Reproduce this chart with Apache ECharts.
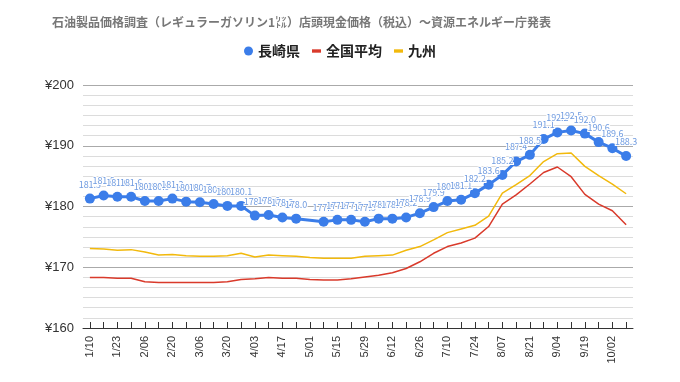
<!DOCTYPE html>
<html><head><meta charset="utf-8">
<script src="https://cdn.jsdelivr.net/npm/echarts@6/dist/echarts.min.js"></script>
<style>html,body{margin:0;padding:0;background:#fff}#c{width:680px;height:382px}</style>
</head><body><div id="c"></div>
<script>
const titleText = '石油製品価格調査（レギュラーガソリン1㍑）店頭現金価格（税込）～資源エネルギー庁発表';
const categories = ['1/10','1/16','1/23','1/30','2/06','2/13','2/20','2/27','3/06','3/13','3/20','3/27','4/03','4/10','4/17','4/24','5/01','5/08','5/15','5/22','5/29','6/05','6/12','6/19','6/26','7/03','7/10','7/18','7/24','7/31','8/07','8/14','8/21','8/28','9/04','9/11','9/19','9/25','10/02','10/10'];
const nagasaki = [181.3,181.8,181.6,181.6,180.9,180.9,181.3,180.8,180.7,180.4,180.1,180.1,178.5,178.6,178.2,178.0,null,177.5,177.8,177.8,177.5,178.0,178.0,178.2,178.9,179.9,180.9,181.1,182.2,183.6,185.2,187.4,188.5,191.1,192.2,192.5,192.0,190.6,189.6,188.3];
const national = [168.3,168.3,168.2,168.2,167.6,167.5,167.5,167.5,167.5,167.5,167.6,168.0,168.1,168.3,168.2,168.2,168.0,167.9,167.9,168.1,168.4,168.7,169.1,169.8,170.9,172.3,173.4,174.0,174.8,176.7,180.4,181.9,183.7,185.6,186.5,184.9,182.0,180.4,179.3,177.0];
const kyushu = [173.1,173.0,172.8,172.9,172.5,172.0,172.1,171.9,171.8,171.8,171.9,172.3,171.7,172.0,171.9,171.8,171.6,171.5,171.5,171.5,171.8,171.9,172.0,172.8,173.4,174.5,175.7,176.3,176.9,178.4,182.2,183.6,185.1,187.4,188.7,188.8,186.6,185.1,183.7,182.1];
const seriesNames = ['長崎県','全国平均','九州'];
const yTicks = [160,170,180,190,200];

const chart = echarts.init(document.getElementById('c'), null, {renderer:'canvas'});
const font = '"Noto Sans CJK JP","Noto Sans",sans-serif';
const dash = 'path://M0,0H8V3H0Z';
chart.setOption({
  animation:false,
  textStyle:{fontFamily:font},
  title:{text:titleText,left:47,top:11,textStyle:{fontSize:12,fontWeight:'bold',color:'#777777',fontFamily:font}},
  legend:{top:39,left:'center',itemWidth:9,itemHeight:9,itemGap:12,
    textStyle:{fontSize:14,fontWeight:'bold',color:'#222',fontFamily:font},
    data:[{name:seriesNames[0],icon:'circle'},{name:seriesNames[1],icon:dash},{name:seriesNames[2],icon:dash}]},
  grid:{left:83,right:47,top:85,bottom:54,containLabel:false},
  xAxis:{type:'category',data:categories,boundaryGap:true,
    axisLine:{lineStyle:{color:'#333',width:1}},
    axisTick:{show:true,inside:true,length:6,alignWithLabel:true,interval:0,lineStyle:{color:'#333'}},
    axisLabel:{interval:1,rotate:90,fontSize:11,color:'#333',margin:8,fontFamily:'"Liberation Sans",Arial,sans-serif'}},
  yAxis:{type:'value',min:yTicks[0],max:yTicks[yTicks.length-1],interval:10,
    axisLine:{show:false},axisTick:{show:false},
    axisLabel:{formatter:v=>'¥'+v,fontSize:13,color:'#333',margin:9,fontFamily:'"Liberation Sans",Arial,sans-serif'},
    splitLine:{lineStyle:{color:'#aaaaaa',width:1}},
    minorTick:{show:false,splitNumber:6},
    minorSplitLine:{show:true,lineStyle:{color:'#dcdcdc',width:1}}},
  series:[
    {name:seriesNames[0],type:'line',data:nagasaki,connectNulls:true,showAllSymbol:true,symbol:'circle',symbolSize:10,z:5,
      itemStyle:{color:'#3b7de9'},lineStyle:{color:'#3b7de9',width:3},
      label:{show:true,position:'top',distance:5,fontSize:9,color:'#6f9be0',
        textBorderColor:'#fff',textBorderWidth:2,formatter:p=>p.value==null?'':Number(p.value).toFixed(1)},
      labelLayout:{hideOverlap:false}},
    {name:seriesNames[1],type:'line',data:national,showSymbol:false,symbol:'none',z:3,
      itemStyle:{color:'#d93a2b'},lineStyle:{color:'#d93a2b',width:1.5}},
    {name:seriesNames[2],type:'line',data:kyushu,showSymbol:false,symbol:'none',z:3,
      itemStyle:{color:'#f2b90c'},lineStyle:{color:'#f2b90c',width:1.5}}
  ]
});
</script></body></html>
